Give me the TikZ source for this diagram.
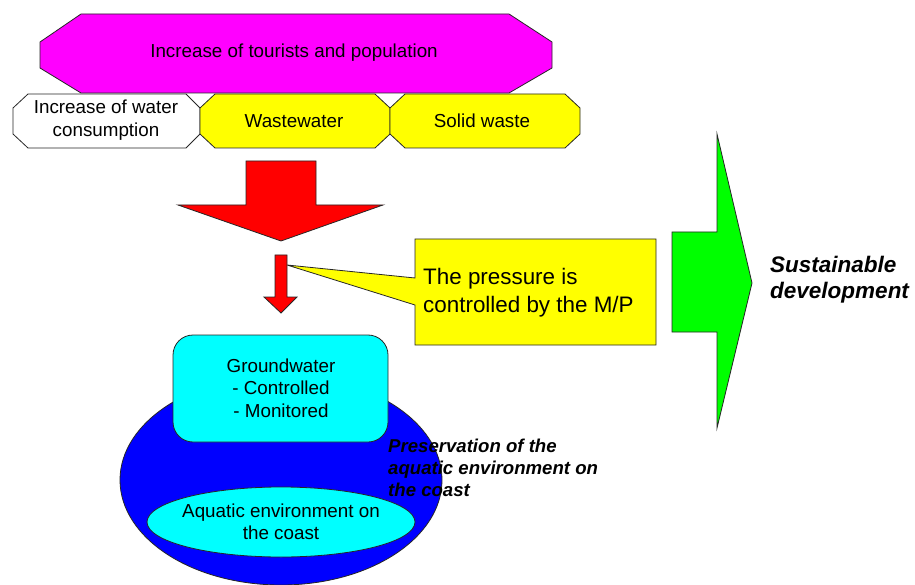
\documentclass[tikz,border=0pt]{standalone}
\usepackage{fontspec}
\setmainfont{Liberation Sans}
\definecolor{cMag}{HTML}{FF00FF}
\definecolor{cYel}{HTML}{FFFF00}
\definecolor{cRed}{HTML}{FF0000}
\definecolor{cCyan}{HTML}{00FFFF}
\definecolor{cBlue}{HTML}{0000FF}
\definecolor{cGreen}{HTML}{00FF00}
\tikzset{
  shp/.style={draw=black!85, line width=0.8pt, line join=miter},
  txt/.style={inner sep=0pt, align=center, font=\fontsize{18.8}{22.5}\selectfont},
  bigtxt/.style={inner sep=0pt, align=left, font=\fontsize{22.4}{28}\selectfont},
  emtxt/.style={inner sep=0pt, align=left, font=\fontsize{18.6}{22}\selectfont\bfseries\itshape},
}
\begin{document}
\begin{tikzpicture}[x=1pt,y=-1pt]
\useasboundingbox (0,0) rectangle (915,585);
\fill[white] (0,0) rectangle (915,585);
% top octagon
\draw[shp, fill=cMag] (81,14) -- (509,14) -- (552,42) -- (552,68) -- (509,93) -- (81,93) -- (40,68) -- (40,42) -- cycle;
\node[txt] (tour) at (294,53) {Increase of tourists and population};
% bottom row
\draw[shp, fill=white] (28,94) -- (186,94) -- (200,108) -- (200,134) -- (186,148) -- (28,148) -- (13,134) -- (13,108) -- cycle;
\draw[shp, fill=cYel] (215,94) -- (375,94) -- (390,108) -- (390,134) -- (375,148) -- (215,148) -- (200,134) -- (200,108) -- cycle;
\draw[shp, fill=cYel] (405,94) -- (565,94) -- (580,108) -- (580,134) -- (565,148) -- (405,148) -- (390,134) -- (390,108) -- cycle;
\node[txt] (cons) at (106,120) {Increase of water\\consumption};
\node[txt] (ww) at (294,121) {Wastewater};
\node[txt] (sw) at (482,121) {Solid waste};
% big red arrow
\draw[shp, fill=cRed] (246,161) -- (316,161) -- (316,205) -- (383,205) -- (281,241) -- (178,205) -- (246,205) -- cycle;
% callout
\draw[shp, fill=cYel] (415,239) -- (656,239) -- (656,345) -- (415,345) -- (415,305) -- (287,265) -- (415,278) -- cycle;
\node[bigtxt, anchor=west] (press) at (423,293) {The pressure is\\controlled by the M/P};
% small red arrow
\draw[shp, fill=cRed] (275,255) -- (287,255) -- (287,297) -- (297,297) -- (281,313) -- (264,297) -- (275,297) -- cycle;
% blue ellipse
\draw[shp, fill=cBlue] (281,480) ellipse [x radius=161, y radius=105];
% groundwater box
\draw[shp, fill=cCyan, rounded corners=20pt] (173,335) rectangle (388,442);
\node[txt] (gw) at (281,388) {Groundwater\\- Controlled\\- Monitored};
% inner ellipse
\draw[shp, fill=cCyan] (281,522) ellipse [x radius=134, y radius=35];
\node[txt] (aq) at (281,522) {Aquatic environment on\\the coast};
% preservation text
\node[emtxt, anchor=west] (pres) at (388,468) {Preservation of the\\aquatic environment on\\the coast};
% green arrow
\draw[shp, fill=cGreen] (672,232) -- (717,232) -- (717,134) -- (752,283) -- (717,428) -- (717,332) -- (672,332) -- cycle;
\node[inner sep=0pt, align=left, anchor=west, font=\fontsize{22.5}{26}\selectfont\bfseries\itshape] (sust) at (770,280) {Sustainable\\development};
\end{tikzpicture}
\end{document}
